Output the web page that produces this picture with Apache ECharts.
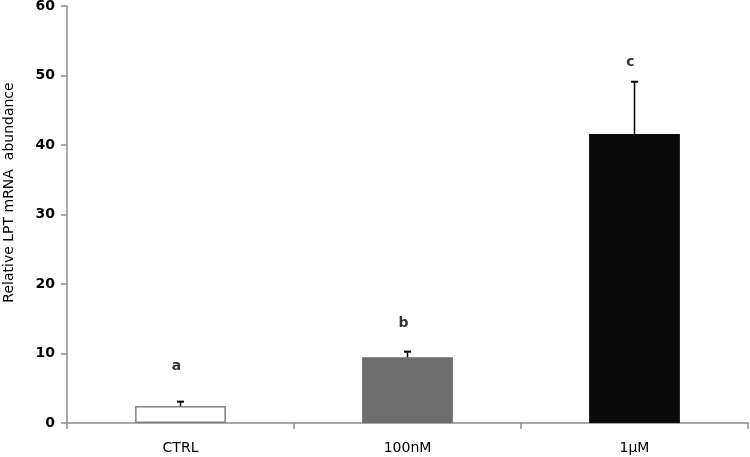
<!DOCTYPE html>
<html><head><meta charset="utf-8">
<script src="https://cdn.jsdelivr.net/npm/echarts@6/dist/echarts.min.js"></script>
<style>html,body{margin:0;padding:0;background:#fff}#c{width:750px;height:457px}</style>
</head><body><div id="c"></div>
<script>
const categories = ['CTRL', '100nM', '1\u03bcM'];
const means = [2.45, 9.45, 41.6];
const errUpper = [3.07, 10.26, 49.1];
const letters = ['a', 'b', 'c'];
const letterY = [8.1, 14.4, 51.9];
const barColors = ['#ffffff', '#6e6e6e', '#0a0a0a'];
const yTicks = [0, 10, 20, 30, 40, 50, 60];

const chart = echarts.init(document.getElementById('c'), null, {renderer: 'canvas'});
const font = "'DejaVu Sans', sans-serif";
chart.setOption({
  animation: false,
  grid: {left: 67, right: 2, top: 6, bottom: 34, containLabel: false, outerBoundsMode: 'none'},
  xAxis: {
    type: 'category', data: categories,
    axisLine: {lineStyle: {color: '#8c8c8c', width: 1.5}},
    axisTick: {show: true, length: 6, lineStyle: {color: '#8c8c8c', width: 1.5}},
    axisLabel: {color: '#000', fontSize: 14, fontFamily: font, margin: 18}
  },
  yAxis: {
    type: 'value', min: yTicks[0], max: yTicks[yTicks.length - 1], interval: 10,
    name: 'Relative LPT mRNA  abundance', nameLocation: 'middle', nameGap: 51,
    nameTextStyle: {color: '#000', fontSize: 14, fontFamily: font, padding: [0, 0, 0, 44]},
    axisLine: {show: true, lineStyle: {color: '#8c8c8c', width: 1.5}},
    axisTick: {show: true, length: 6, lineStyle: {color: '#8c8c8c', width: 1.5}},
    splitLine: {show: false},
    axisLabel: {color: '#000', fontSize: 14, fontWeight: 'bold', fontFamily: font, margin: 12}
  },
  series: [
    {
      type: 'bar', barWidth: '40%',
      data: means.map((v, i) => ({value: v, itemStyle: {color: barColors[i], borderColor: i === 0 ? '#808080' : barColors[i], borderWidth: i === 0 ? 1.5 : 0}})),
      z: 2
    },
    {
      type: 'custom', z: 3,
      data: means.map((v, i) => [i, v, errUpper[i]]),
      renderItem: function (params, api) {
        const x = api.coord([api.value(0), api.value(1)])[0];
        const y0 = api.coord([api.value(0), api.value(1)])[1];
        const y1 = api.coord([api.value(0), api.value(2)])[1];
        const cap = 3.5;
        return {
          type: 'group', children: [
            {type: 'line', shape: {x1: x, y1: y0, x2: x, y2: y1}, style: {stroke: '#000', lineWidth: 1.5}},
            {type: 'line', shape: {x1: x - cap, y1: y1, x2: x + cap, y2: y1}, style: {stroke: '#000', lineWidth: 2}}
          ]
        };
      }
    },
    {
      type: 'scatter', symbolSize: 0, z: 4,
      data: letterY.map((v, i) => [i, v]),
      label: {show: true, position: 'inside', offset: [-4, 0], formatter: p => letters[p.dataIndex],
        color: '#000', fontSize: 14, fontWeight: 'bold', fontFamily: font}
    }
  ]
});
</script></body></html>
